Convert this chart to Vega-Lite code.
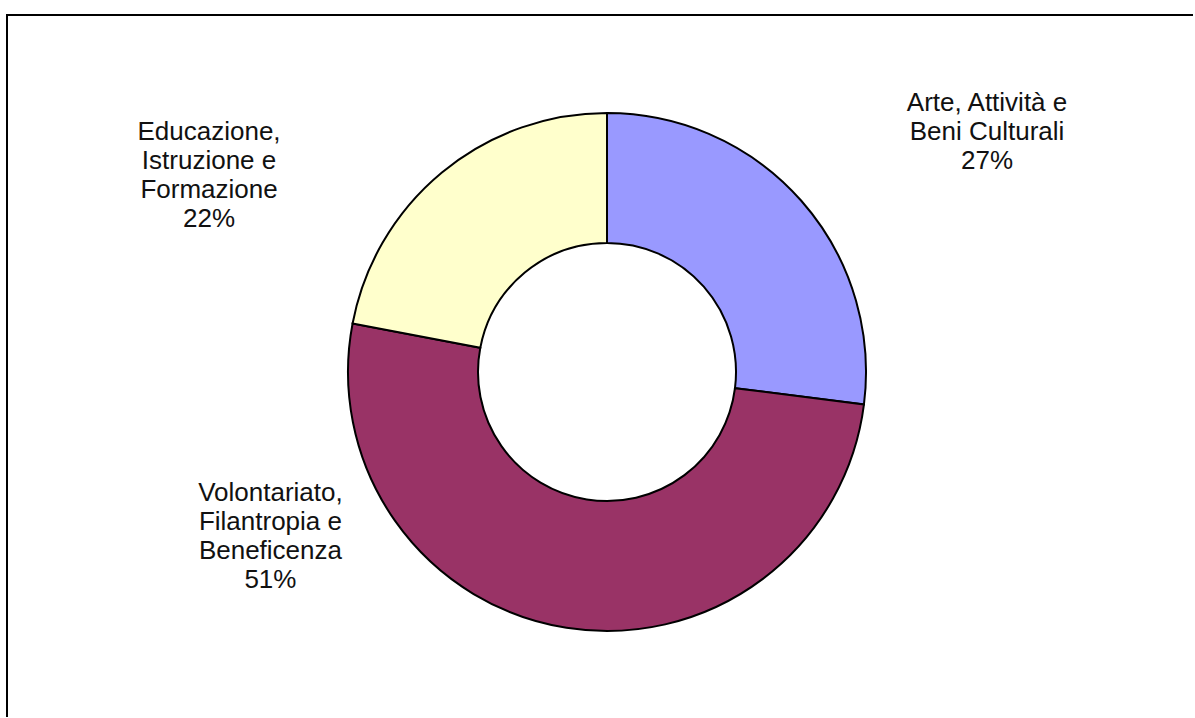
{
  "$schema": "https://vega.github.io/schema/vega-lite/v6.json",
  "width": 1188,
  "height": 703,
  "autosize": {"type": "none"},
  "padding": {"left": 7, "top": 15, "right": 0, "bottom": 0},
  "background": "white",
  "config": {
    "view": {"stroke": "black", "strokeWidth": 2, "strokeDash": [1186, 1894, 702]},
    "text": {"font": "Liberation Sans", "fontSize": 26, "lineHeight": 29, "color": "#111111"}
  },
  "data": {
    "values": [
      {"settore": "Arte, Attività e Beni Culturali", "quota": 27, "ordine": 1, "etichetta": "Arte, Attività e\nBeni Culturali\n27%"},
      {"settore": "Volontariato, Filantropia e Beneficenza", "quota": 51, "ordine": 2, "etichetta": "Volontariato,\nFilantropia e\nBeneficenza\n51%"},
      {"settore": "Educazione, Istruzione e Formazione", "quota": 22, "ordine": 3, "etichetta": "Educazione,\nIstruzione e\nFormazione\n22%"}
    ]
  },
  "encoding": {
    "theta": {"field": "quota", "type": "quantitative", "stack": true},
    "order": {"field": "ordine", "type": "quantitative"},
    "x": {"datum": 0, "type": "quantitative", "scale": {"domain": [-600, 588]}, "axis": null},
    "y": {"datum": 0, "type": "quantitative", "scale": {"domain": [-346, 357]}, "axis": null}
  },
  "layer": [
    {
      "mark": {"type": "arc", "outerRadius": 259, "innerRadius": 129, "stroke": "black", "strokeWidth": 2},
      "encoding": {
        "color": {
          "field": "settore",
          "type": "nominal",
          "scale": {
            "domain": ["Arte, Attività e Beni Culturali", "Volontariato, Filantropia e Beneficenza", "Educazione, Istruzione e Formazione"],
            "range": ["#9999FF", "#993366", "#FFFFCC"]
          },
          "legend": null
        }
      }
    },
    {
      "mark": {"type": "text", "radius": 400, "dx": 80, "dy": -4, "lineBreak": "\n", "align": "center", "baseline": "middle"},
      "encoding": {
        "text": {"condition": {"test": "datum.ordine == 1", "field": "etichetta"}, "value": ""}
      }
    },
    {
      "mark": {"type": "text", "radius": 400, "dx": -274, "dy": -274, "lineBreak": "\n", "align": "center", "baseline": "middle"},
      "encoding": {
        "text": {"condition": {"test": "datum.ordine == 2", "field": "etichetta"}, "value": ""}
      }
    },
    {
      "mark": {"type": "text", "radius": 400, "dx": -143, "dy": 68, "lineBreak": "\n", "align": "center", "baseline": "middle"},
      "encoding": {
        "text": {"condition": {"test": "datum.ordine == 3", "field": "etichetta"}, "value": ""}
      }
    }
  ]
}
